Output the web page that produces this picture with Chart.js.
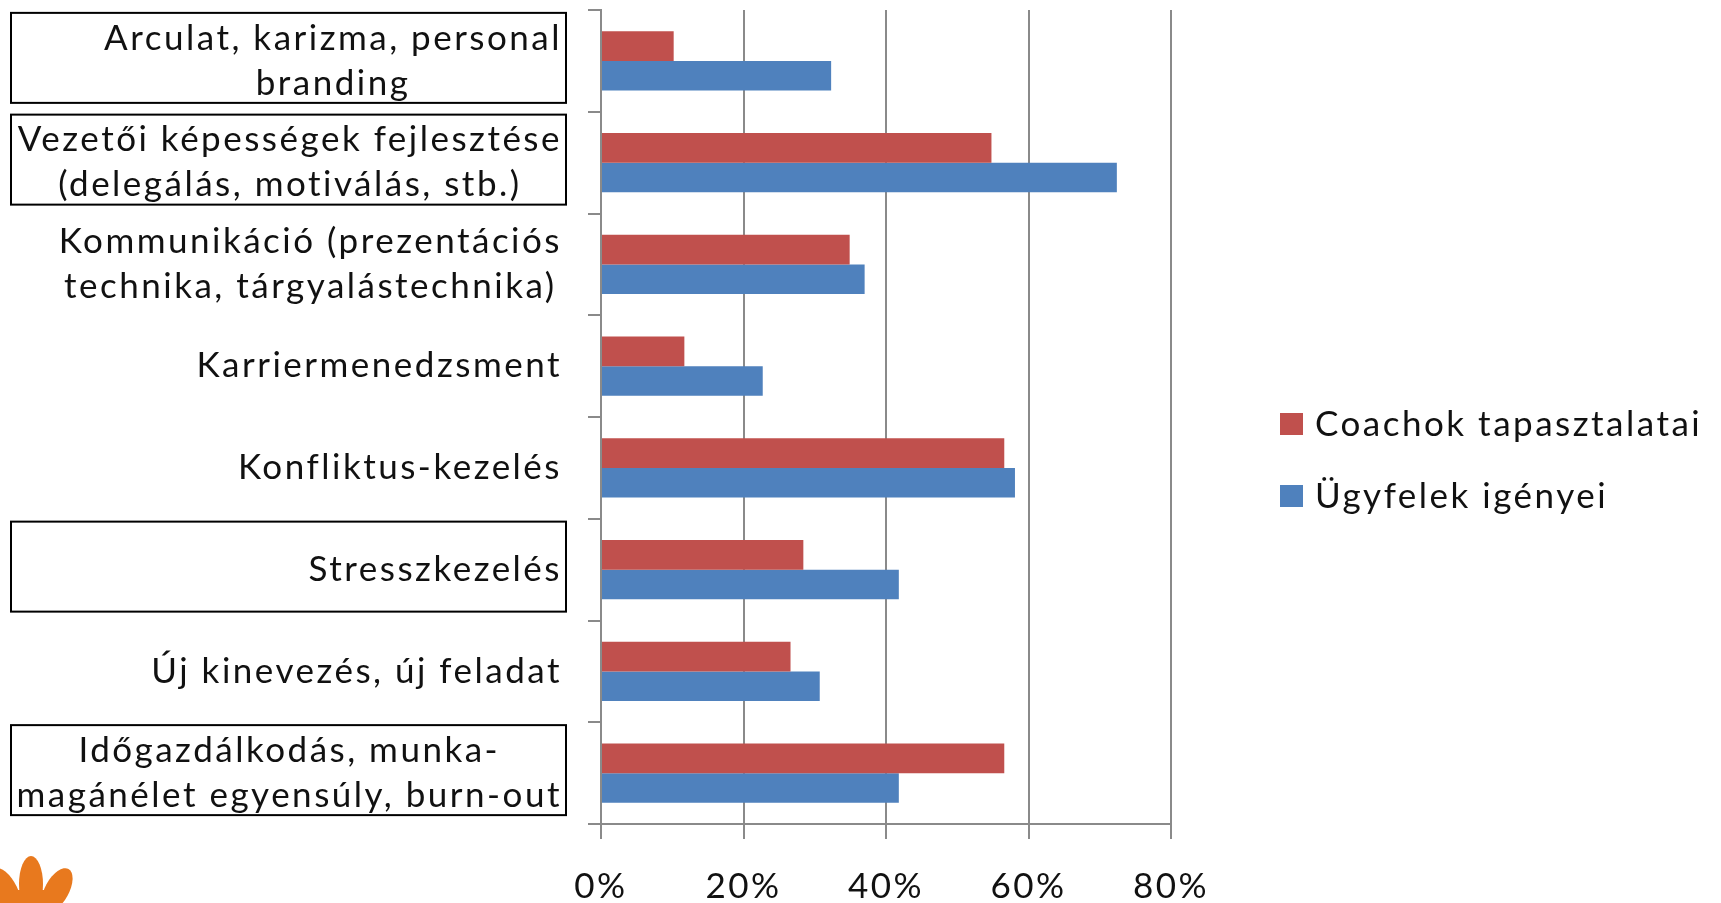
<!DOCTYPE html>
<html>
<head>
<meta charset="utf-8">
<script src="https://cdn.jsdelivr.net/npm/chart.js@4"></script>
<style>
  html, body { margin: 0; padding: 0; background: #fff; }
  #wrap { width: 1721px; height: 903px; position: relative; }
</style>
</head>
<body>
<div id="wrap"><canvas id="chart"></canvas></div>
<script>
// categories (top to bottom), multi-line labels as arrays
const categories = [
    ['Arculat, karizma, personal', 'branding'],
    ['Vezetői képességek fejlesztése', '(delegálás, motiválás, stb.)'],
    ['Kommunikáció (prezentációs', 'technika, tárgyalástechnika)'],
    'Karriermenedzsment',
    'Konfliktus-kezelés',
    'Stresszkezelés',
    'Új kinevezés, új feladat',
    ['Időgazdálkodás, munka-', 'magánélet egyensúly, burn-out']
];
const coachValues = [10.2, 54.8, 34.9, 11.7, 56.6, 28.4, 26.6, 56.6];
const clientValues = [32.3, 72.4, 37.0, 22.7, 58.1, 41.8, 30.7, 41.8];
const seriesNames = ['Coachok tapasztalatai', 'Ügyfelek igényei'];
const xTicks = [0, 20, 40, 60, 80];
// labels that have a frame drawn around them
const boxedCategories = [0, 1, 5, 7];

const FONT = 'Lato, "Open Sans", sans-serif';
const GRID = '#8a8a8a';

// draws category labels, frames, legend and the corner logo
const extrasPlugin = {
    id: 'extras',
    beforeDraw(chart) {
        chart.ctx.letterSpacing = '2.5px';
    },
    afterDraw(chart) {
        const ctx = chart.ctx;
        const yScale = chart.scales.y;
        ctx.save();
        ctx.letterSpacing = '2.5px';
        ctx.font = '35px ' + FONT;
        ctx.fillStyle = '#111';
        ctx.textBaseline = 'middle';
        ctx.textAlign = 'center';

        const labelRight = 562;
        const lineHeight = 45;
        categories.forEach((cat, i) => {
            const lines = Array.isArray(cat) ? cat : [cat];
            const y = yScale.getPixelForValue(i);
            const maxW = Math.max(...lines.map(l => ctx.measureText(l).width));
            const cx = labelRight - maxW / 2;
            lines.forEach((line, j) => {
                ctx.fillText(line, cx, y + (j - (lines.length - 1) / 2) * lineHeight);
            });
        });

        // frames around some labels
        ctx.strokeStyle = '#000';
        ctx.lineWidth = 2;
        boxedCategories.forEach(i => {
            const y = yScale.getPixelForValue(i);
            ctx.strokeRect(11, y - 48, 555, 90);
        });

        // legend
        const legendX = 1280;
        const rows = [424, 496];
        chart.data.datasets.forEach((ds, i) => {
            ctx.fillStyle = ds.backgroundColor;
            ctx.fillRect(legendX, rows[i] - 11, 23, 22);
            ctx.fillStyle = '#111';
            ctx.textAlign = 'left';
            ctx.fillText(ds.label, legendX + 35, rows[i] + 1);
        });

        // orange logo fragment in the corner
        ctx.fillStyle = '#e8791e';
        const petal = (x, y, rx, ry, rot) => {
            ctx.beginPath();
            ctx.ellipse(x, y, rx, ry, rot, 0, Math.PI * 2);
            ctx.fill();
        };
        petal(31, 884, 12, 28, 0);
        petal(57, 890, 12, 24, 0.5);
        petal(6, 892, 12, 26, -0.45);
        ctx.fillRect(5, 890, 50, 13);
        ctx.restore();
    }
};

new Chart(document.getElementById('chart'), {
    type: 'bar',
    data: {
        labels: categories,
        datasets: [
            {
                label: seriesNames[0],
                data: coachValues,
                backgroundColor: '#c0504d',
                barPercentage: 1,
                categoryPercentage: 0.58
            },
            {
                label: seriesNames[1],
                data: clientValues,
                backgroundColor: '#4f81bd',
                barPercentage: 1,
                categoryPercentage: 0.58
            }
        ]
    },
    options: {
        indexAxis: 'y',
        responsive: true,
        maintainAspectRatio: false,
        animation: false,
        layout: {
            padding: { top: 10, right: 550, left: 0, bottom: 0 }
        },
        plugins: {
            legend: { display: false },
            tooltip: { enabled: false }
        },
        scales: {
            x: {
                min: 0,
                max: 80,
                afterBuildTicks: scale => {
                    scale.ticks = xTicks.map(v => ({ value: v }));
                },
                afterFit: scale => { scale.height = 79; },
                grid: {
                    color: GRID,
                    lineWidth: 2,
                    tickLength: 15
                },
                border: { display: true, color: GRID, width: 2 },
                ticks: {
                    callback: v => v + '%',
                    color: '#111',
                    padding: 30,
                    maxRotation: 0,
                    font: { family: FONT, size: 35, lineHeight: 1 }
                }
            },
            y: {
                afterFit: scale => { scale.width = 601; },
                grid: {
                    drawOnChartArea: false,
                    color: GRID,
                    lineWidth: 2,
                    tickLength: 13,
                    offset: true
                },
                border: { display: true, color: GRID, width: 2 },
                ticks: { display: false }
            }
        }
    },
    plugins: [extrasPlugin]
});
</script>
</body>
</html>
